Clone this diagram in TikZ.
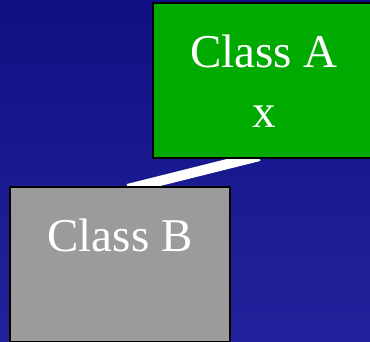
\documentclass[tikz,border=0pt]{standalone}
\usepackage{fontspec}
\setmainfont{Liberation Serif}
\usetikzlibrary{calc}
\pgfdeclarelayer{bgshade}
\pgfdeclarelayer{back}
\pgfsetlayers{bgshade,back,main}
\definecolor{bgtop}{RGB}{16,16,132}
\definecolor{bgbot}{RGB}{34,34,156}
\definecolor{boxgreen}{RGB}{0,170,0}
\definecolor{boxgray}{RGB}{155,155,155}
\tikzset{
  classbox/.style={draw=black, line width=2pt, minimum width=220pt, minimum height=155pt, inner sep=0pt},
  lbl/.style={text=white, font=\fontsize{47}{55}\selectfont, inner sep=0pt, anchor=base},
  link/.style={draw=white, line width=10pt, line cap=butt}
}
\begin{document}
\begin{tikzpicture}[x=1pt,y=-1pt]
  \useasboundingbox (0,0) rectangle (370,342);
  \clip (0,0) rectangle (370,342);
  \begin{pgfonlayer}{bgshade}
    \shade[top color=bgtop, bottom color=bgbot] (0,0) rectangle (370,342);
  \end{pgfonlayer}
  \node[classbox, fill=boxgreen, minimum width=232pt] (a) at (269,80.5) {};
  \node[lbl] (atitle) at ($(a.north)+(-5,66)$) {Class A};
  \node[lbl] (aattr) at ($(a.north)+(-5,126)$) {x};
  \node[classbox, fill=boxgray] (b) at (120,264.5) {};
  \node[lbl] (btitle) at ($(b.north)+(0,66)$) {Class B};
  \begin{pgfonlayer}{back}
    \coordinate (p1) at ($(a.south)+(-21.5,0)$);
    \coordinate (p2) at ($(b.north)+(19.5,0)$);
    \draw[link, shorten <=-12pt, shorten >=-12pt] (p1) -- (p2);
  \end{pgfonlayer}
\end{tikzpicture}
\end{document}
